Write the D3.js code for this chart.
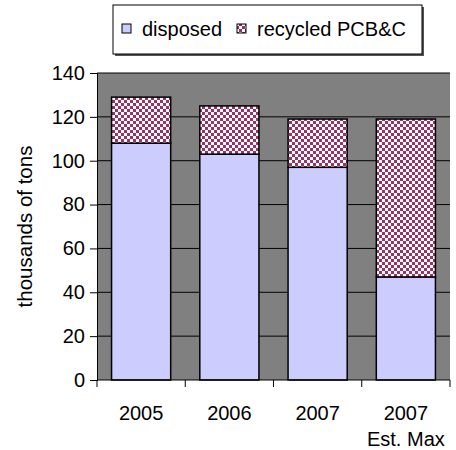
<!DOCTYPE html>
<html>
<head>
<meta charset="utf-8">
<script src="https://cdn.jsdelivr.net/npm/d3@7"></script>
<style>
  body{margin:0;background:#fff;}
  text{font-family:"Liberation Sans",Arial,sans-serif;fill:#000;}
</style>
</head>
<body>
<div id="chart"></div>
<script>
// values (thousands of tons)
const years=["2005","2006","2007","2007"];
const subLabels=["","","","Est. Max"];
const disposed=[108,103,97,47];
const recycled=[21,22,22,72];
const yTicks=[0,20,40,60,80,100,120,140];
const seriesNames=["disposed","recycled PCB&C"];

(function(){
    let W=456,H=450;
    let margin={top:73,right:6,bottom:70,left:97};
    let width=W-margin.left-margin.right;
    let height=H-margin.top-margin.bottom;
    let fs="20px";

    let svg=d3.select("#chart").append("svg")
        .attr("width",W).attr("height",H);

    //checker pattern for the recycled part
    let defs=svg.append("defs");
    let pat=defs.append("pattern")
        .attr("id","checker")
        .attr("patternUnits","userSpaceOnUse")
        .attr("width",6).attr("height",6);
    pat.append("rect").attr("width",6).attr("height",6).attr("fill","#fff");
    pat.append("rect").attr("width",3).attr("height",3).attr("fill","#993366");
    pat.append("rect").attr("x",3).attr("y",3).attr("width",3).attr("height",3).attr("fill","#993366");

    let g=svg.append("g")
        .attr("transform","translate("+margin.left+","+margin.top+")");

    let x=d3.scaleBand()
        .domain(d3.range(years.length))
        .range([0,width])
        .paddingInner(0.33)
        .paddingOuter(0.165);
    let y=d3.scaleLinear()
        .domain([0,140])
        .range([height,0]);

    g.append("rect")
        .attr("width",width).attr("height",height)
        .attr("fill","#808080");

    //gridlines
    g.selectAll(".grid").data(yTicks.filter(d=>d>0)).enter()
        .append("line")
        .attr("x1",0).attr("x2",width)
        .attr("y1",d=>y(d)).attr("y2",d=>y(d))
        .attr("stroke","#000").attr("stroke-width",1);

    let rows=years.map(function(yr,i){return {i:i,d:disposed[i],r:recycled[i]};});

    g.selectAll(".disp").data(rows).enter()
        .append("rect")
        .attr("x",d=>x(d.i))
        .attr("width",x.bandwidth())
        .attr("y",d=>y(d.d))
        .attr("height",d=>y(0)-y(d.d))
        .attr("fill","#ccccff")
        .attr("stroke","#000").attr("stroke-width",1.5);

    g.selectAll(".rec").data(rows).enter()
        .append("rect")
        .attr("x",d=>x(d.i))
        .attr("width",x.bandwidth())
        .attr("y",d=>y(d.d+d.r))
        .attr("height",d=>y(d.d)-y(d.d+d.r))
        .attr("fill","url(#checker)")
        .attr("stroke","#000").attr("stroke-width",1.5);

    //y axis
    let ya=g.append("g")
        .call(d3.axisLeft(y).tickValues(yTicks).tickSize(7).tickPadding(5));
    ya.select(".domain").attr("stroke","#000");
    ya.selectAll("line").attr("stroke","#000");
    ya.selectAll("text").style("font-size",fs).attr("fill","#000");

    //x axis: ticks at band boundaries
    let xa=g.append("g").attr("transform","translate(0,"+height+")");
    xa.append("line").attr("x1",0).attr("x2",width).attr("stroke","#000");
    let step=x.step();
    let bounds=d3.range(years.length+1).map(function(k){
        return k===years.length ? width : x(k)-x.paddingOuter()*step;
    });
    xa.selectAll(".tk").data(bounds).enter()
        .append("line")
        .attr("x1",d=>d).attr("x2",d=>d)
        .attr("y1",0).attr("y2",7)
        .attr("stroke","#000");
    xa.selectAll(".lbl").data(rows).enter()
        .append("text")
        .attr("x",d=>x(d.i)+x.bandwidth()/2)
        .attr("y",40)
        .attr("text-anchor","middle")
        .style("font-size",fs)
        .text(d=>years[d.i]);
    xa.selectAll(".sub").data(rows.filter(d=>subLabels[d.i])).enter()
        .append("text")
        .attr("x",d=>x(d.i)+x.bandwidth()/2)
        .attr("y",66)
        .attr("text-anchor","middle")
        .style("font-size",fs)
        .text(d=>subLabels[d.i]);

    //y title
    svg.append("text")
        .attr("transform","translate(32,"+(margin.top+height/2)+") rotate(-90)")
        .attr("text-anchor","middle")
        .style("font-size","20.5px")
        .text("thousands of tons");

    //legend
    let lg=svg.append("g").attr("transform","translate(113,5)");
    lg.append("rect").attr("x",2).attr("y",2).attr("width",309).attr("height",49).attr("fill","#555");
    lg.append("rect").attr("width",309).attr("height",49)
        .attr("fill","#fff").attr("stroke","#000");
    let fills=["#ccccff","url(#checker)"];
    let lx=[9,124];
    seriesNames.forEach(function(name,i){
        lg.append("rect")
            .attr("x",lx[i]).attr("y",19)
            .attr("width",9).attr("height",9)
            .attr("fill",fills[i]).attr("stroke","#000");
        lg.append("text")
            .attr("x",lx[i]+20).attr("y",31)
            .style("font-size",fs)
            .text(name);
    });
})();
</script>
</body>
</html>
